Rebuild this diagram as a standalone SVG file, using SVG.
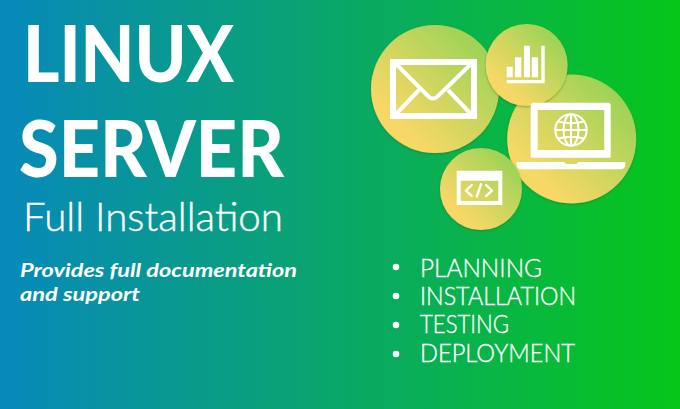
<svg xmlns="http://www.w3.org/2000/svg" width="680" height="409" viewBox="0 0 680 409">
<style>
.t{font-family:"Lato","Liberation Sans",sans-serif;fill:#fff}
.h{font-size:79px;font-weight:900}
.s{font-size:39px;font-weight:300;stroke:#fff;stroke-width:.4}
.i{font-size:19.5px;font-weight:700;font-style:italic}
.b{font-size:25px;font-weight:300;stroke:#fff;stroke-width:.35}
.c{filter:url(#sh)}
.ln{fill:none;stroke:#fff}
.w{fill:#fff}
</style>
<defs>
<linearGradient id="bg" x1="0" y1="0" x2="1" y2="0"><stop offset="0" stop-color="#0789bb"/><stop offset="0.47" stop-color="#0aa56e"/><stop offset="1" stop-color="#06c61a"/></linearGradient>
<linearGradient id="g" x1="0.15" y1="0.85" x2="0.85" y2="0.15"><stop offset="0.1" stop-color="#f7d866"/><stop offset="1" stop-color="#9dd357"/></linearGradient>
<filter id="sh" x="-10%" y="-10%" width="120%" height="120%"><feDropShadow dx="0" dy="1" stdDeviation="1" flood-color="#3a5a10" flood-opacity="0.45"/></filter>
</defs>
<rect width="680" height="409" fill="url(#bg)"/>
<g id="title">
<text class="t h" x="23" y="82" textLength="211" lengthAdjust="spacingAndGlyphs">LINUX</text>
<text class="t h" x="19" y="177" textLength="265" lengthAdjust="spacingAndGlyphs">SERVER</text>
<text class="t s" x="23" y="231" textLength="260" lengthAdjust="spacingAndGlyphs">Full Installation</text>
<text class="t i" x="20" y="277" textLength="277" lengthAdjust="spacingAndGlyphs">Provides full documentation</text>
<text class="t i" x="20" y="301" textLength="120" lengthAdjust="spacingAndGlyphs">and support</text>
</g>
<g id="mail">
<circle class="c" cx="435" cy="89" r="64" fill="url(#g)"/>
<rect class="ln" x="393" y="62" width="81" height="54" stroke-width="6"/>
<path class="ln" stroke-width="4" stroke-linejoin="round" d="M396 64L429 97Q433 100 437 97L471 64M396 114L419 90M471 114L448 90"/>
</g>
<g id="laptop-circle"><circle class="c" cx="571.7" cy="139" r="64.5" fill="url(#g)"/></g>
<g id="code">
<circle class="c" cx="481" cy="189" r="41" fill="url(#g)"/>
<path class="w" fill-rule="evenodd" d="M456.7 170.700H502.300V205H456.700ZM460.700 180.700V201H498.300V180.700Z"/>
<circle class="w" cx="487.3" cy="175.500" r="1"/><circle class="w" cx="491.3" cy="175.500" r="1"/><circle class="w" cx="495.300" cy="175.500" r="1"/>
<path class="ln" stroke-width="2.4" stroke-linecap="round" stroke-linejoin="round" d="M471.700 185L466 190.700L471.700 196M481 184.300L476.700 196.700M486 185L492 190.700L486 196"/>
</g>
<g id="chart">
<circle class="c" cx="526.7" cy="65" r="41" fill="url(#g)"/>
<path class="w" d="M506.700 66.700h6v10.600h-6ZM515 57.300h6.300v20h-6.300ZM524 45.700h6v31.600h-6ZM531.700 57.300h6.300v20h-6.300ZM506.700 80H541.300V45.700h3.400V83.300H506.700Z"/>
</g>
<g id="laptop">
<path class="w" fill-rule="evenodd" d="M533.700 102.700H607.700Q610.700 102.700 610.700 105.700V157.700H530.700V105.700Q530.700 102.700 533.700 102.700ZM537.700 110V150H604.300V110Z"/>
<path class="w" d="M516.700 162H564Q565 164 567 164H575.500Q577.500 164 578.300 162H625.300V165Q625 169.300 620 169.300H522Q517 169.300 516.700 165Z"/>
<g class="ln" stroke-width="2">
<circle cx="571" cy="130" r="15.700"/>
<ellipse cx="571" cy="130" rx="7.500" ry="15.700"/>
<path d="M571 114.500V145.500M555.500 130H586.500M558 121.500Q571 125 584 121.500M558 138.500Q571 135 584 138.500"/>
</g>
</g>
<g id="list">
<circle class="w" cx="396" cy="267" r="3.300"/><text class="t b" x="420" y="276.500" textLength="122" lengthAdjust="spacingAndGlyphs">PLANNING</text>
<circle class="w" cx="396" cy="296" r="3.300"/><text class="t b" x="420" y="305" textLength="156" lengthAdjust="spacingAndGlyphs">INSTALLATION</text>
<circle class="w" cx="396" cy="325" r="3.300"/><text class="t b" x="420" y="333" textLength="89" lengthAdjust="spacingAndGlyphs">TESTING</text>
<circle class="w" cx="396" cy="354" r="3.300"/><text class="t b" x="420" y="362" textLength="155" lengthAdjust="spacingAndGlyphs">DEPLOYMENT</text>
</g>
</svg>
